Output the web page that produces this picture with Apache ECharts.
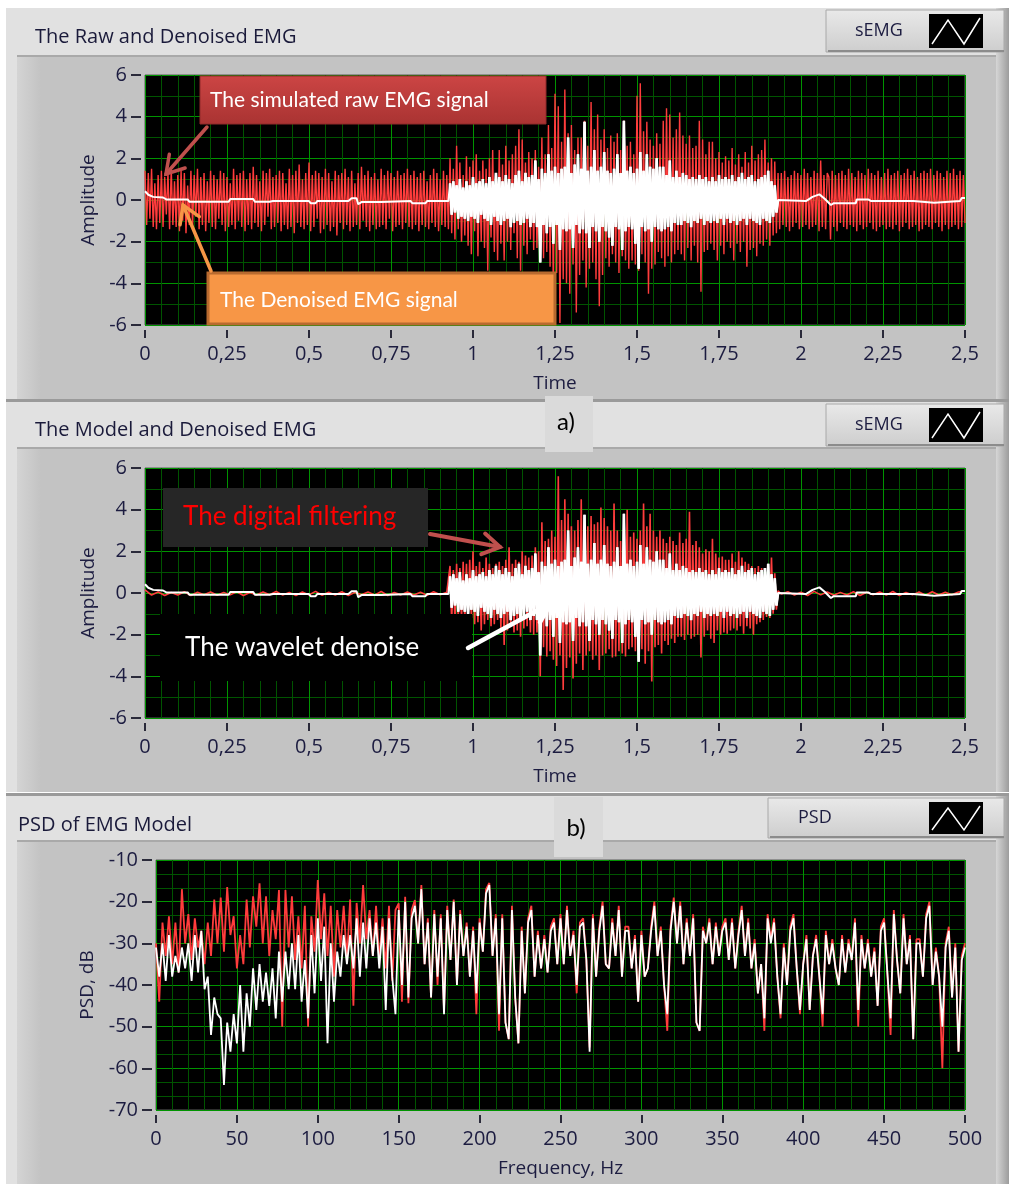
<!DOCTYPE html>
<html>
<head>
<meta charset="utf-8">
<title>EMG raw / denoised / PSD</title>
<script src="https://cdn.jsdelivr.net/npm/echarts/dist/echarts.min.js"></script>
<style>
  html, body { margin: 0; padding: 0; background: #ffffff; }
  #chart { width: 1009px; height: 1184px; }
</style>
</head>
<body>
<div id="chart"></div>
<script>
// ---- data ----

// panel a) raw simulated EMG, sampled every 0.005 s from 0 to 2.5 s
const rawStep = 0.005;
const rawEmg = [
  // quiet part 0 .. 0.925
  1.4,-1.2,1.3,-0.9,1.5,-1.3,0.8,-1.4,1.2,-1.1,1.4,-1.3,1.1,-0.7,1.3,-1.4,1.5,-1.2,0.9,-1.3,
  1.2,-1.5,1.4,-1.0,1.3,-1.6,0.7,-1.2,1.4,-1.3,1.2,-0.8,1.5,-1.4,1.1,-1.2,1.3,-1.5,0.9,-1.1,
  1.4,-1.3,1.2,-1.4,1.0,-0.9,1.4,-1.2,1.3,-1.5,1.1,-1.3,0.8,-1.2,1.5,-1.4,1.2,-1.0,1.3,-1.3,
  1.4,-1.5,1.0,-1.2,1.3,-1.4,1.6,-1.1,1.2,-1.3,0.9,-1.5,1.4,-1.2,1.3,-0.8,1.5,-1.4,1.1,-1.3,
  1.2,-1.1,1.4,-1.5,1.3,-1.2,0.8,-1.4,1.5,-1.3,1.2,-1.6,1.4,-1.1,1.7,-1.3,1.0,-1.4,1.3,-1.2,
  1.8,-1.5,1.2,-1.3,1.4,-0.9,1.3,-1.6,1.1,-1.4,1.5,-1.2,1.3,-1.5,0.9,-1.3,1.4,-1.7,1.2,-1.1,
  1.3,-1.4,1.5,-1.2,1.1,-1.5,1.4,-1.3,0.8,-1.2,1.3,-1.4,1.6,-1.0,1.2,-1.3,1.4,-1.5,1.1,-1.2,
  1.3,-1.4,1.0,-1.3,1.5,-1.2,1.2,-1.4,1.4,-0.9,1.3,-1.5,1.1,-1.3,1.4,-1.2,1.2,-1.4,1.3,-1.1,
  1.5,-1.3,1.2,-1.4,1.4,-1.2,1.1,-1.5,1.3,-1.2,1.4,-1.3,0.9,-1.4,1.2,-1.1,1.5,-1.3,1.3,-1.5,
  1.0,-1.2,1.4,-1.3,1.2,-1.4,
  // burst 0.93 .. 1.93
  2.0,-1.6,1.5,-1.9,2.6,-1.4,1.8,-2.0,1.2,-1.7,
  2.1,-2.2,1.6,-2.6,1.9,-1.5,2.2,-2.7,1.4,-2.0,
  1.9,-2.3,1.5,-3.4,2.0,-1.8,2.4,-2.5,1.3,-2.9,
  2.4,-2.1,1.7,-2.9,2.6,-2.0,1.9,-2.4,2.2,-1.6,
  2.6,-2.8,3.4,-3.4,2.9,-2.2,1.8,-2.6,2.3,-1.9,
  2.0,-2.4,2.4,-2.3,1.6,-2.0,3.0,-2.8,2.2,-2.5,
  3.6,-3.2,2.5,-4.3,5.1,-3.5,4.5,-5.9,2.8,-3.8,
  5.3,-4.0,3.2,-4.5,3.6,-3.1,2.4,-5.4,3.0,-3.6,
  3.0,-2.9,3.8,-4.2,2.6,-3.3,4.7,-3.0,3.4,-3.8,
  4.1,-5.1,2.9,-3.6,3.4,-2.8,2.5,-3.2,3.1,-2.6,
  2.8,-3.0,3.2,-3.5,2.4,-2.7,3.8,-2.9,2.6,-3.3,
  2.8,-2.9,2.2,-3.1,5.0,-3.4,5.6,-2.6,3.3,-3.0,
  3.75,-4.5,2.9,-3.3,2.6,-3.1,3.2,-2.5,2.7,-2.8,
  3.8,-3.2,4.4,-2.7,4.1,-3.0,3.0,-2.6,3.4,-2.4,
  4.2,-2.6,3.1,-2.9,2.7,-2.3,3.1,-2.9,2.5,-2.2,
  2.6,-3.0,3.8,-4.4,2.9,-2.5,2.2,-2.4,2.8,-2.1,
  2.8,-2.4,2.0,-2.9,2.3,-2.2,1.8,-2.6,2.1,-2.0,
  1.9,-2.3,2.5,-2.9,1.7,-2.1,2.2,-2.5,1.6,-2.0,
  2.3,-3.2,1.8,-2.4,2.6,-2.3,1.9,-2.7,2.2,-2.1,
  2.4,-2.2,2.9,-1.9,1.8,-2.2,2.0,-1.7,1.85,-1.6,
  1.3,
  // quiet part 1.935 .. 2.5
  -1.4,1.3,-1.2,1.4,-1.3,1.1,-1.5,1.2,-1.3,1.4,
  -1.1,1.3,-1.4,1.2,-1.3,1.5,-1.2,1.3,-1.4,1.1,
  -1.3,1.4,-1.2,1.3,-1.5,1.9,-1.3,1.2,-1.4,1.3,
  1.1,-1.9,1.4,-1.3,1.2,-1.5,1.3,-1.1,1.4,-1.3,
  1.2,-1.4,1.5,-1.2,1.3,-1.3,1.1,-1.5,1.4,-1.2,
  1.3,-1.4,1.2,-1.3,1.5,-1.1,1.3,-1.4,1.2,-1.5,
  1.4,-1.3,1.1,-1.2,1.3,-1.4,1.5,-1.3,1.2,-1.4,
  1.3,-1.2,1.4,-1.5,1.2,-1.3,1.3,-1.1,1.5,-1.4,
  1.2,-1.3,1.4,-1.2,1.1,-1.5,1.3,-1.4,1.4,-1.2,
  1.3,-1.3,1.5,-1.4,1.2,-1.1,1.4,-1.3,1.3,-1.5,
  1.1,-1.2,1.4,-1.4,1.3,-1.3,1.5,-1.2,1.2,-1.4,
  1.4,-1.3,1.2,-1.1
];

// wavelet-denoised EMG (white): step levels outside the burst, dense inside
const burstStart = 0.93;
const burstStep = 0.005;
const denoisedBefore = [
  [0, 0.42], [0.01, 0.25], [0.025, 0.15], [0.055, 0.12], [0.065, 0.03], [0.13, 0.03],
  [0.135, -0.08], [0.255, -0.08], [0.26, 0.05], [0.33, 0.05], [0.335, -0.08], [0.38, -0.08],
  [0.385, -0.12], [0.39, -0.05], [0.5, -0.05], [0.505, -0.15], [0.52, -0.15], [0.525, -0.05],
  [0.62, -0.05], [0.63, 0.08], [0.645, 0.08], [0.65, -0.2], [0.66, -0.1], [0.72, -0.1],
  [0.725, -0.05], [0.81, -0.05], [0.815, -0.15], [0.855, -0.15], [0.86, -0.05], [0.925, -0.05]
];
const denoisedBurst = [
  0.8,-0.7,0.9,-0.6,0.7,-0.9,1.0,-0.8,0.6,-0.9,
  0.9,-1.0,0.7,-0.8,1.1,-0.9,0.8,-1.1,0.9,-0.7,
  1.0,-0.9,0.8,-1.0,1.1,-1.2,0.9,-0.8,1.3,-1.0,
  1.1,-1.2,0.9,-1.0,1.2,-0.9,1.0,-1.3,0.8,-1.1,
  1.2,-1.0,1.4,-1.2,0.9,-1.1,1.3,-0.9,1.1,-1.3,
  1.2,-1.1,1.9,-1.3,1.0,-3.0,1.5,-1.2,1.3,-1.6,
  2.2,-1.3,1.4,-2.1,1.6,-1.2,1.3,-2.4,1.5,-1.4,
  1.6,-1.5,3.0,-1.4,1.3,-2.3,1.7,-1.2,2.2,-1.6,
  1.5,-1.4,3.75,-1.6,1.4,-2.3,1.6,-1.3,2.4,-1.5,
  1.4,-2.0,1.6,-1.3,2.3,-1.5,1.4,-1.8,1.3,-2.2,
  1.5,-1.3,2.2,-1.4,1.3,-2.4,3.8,-1.5,1.4,-1.3,
  1.6,-1.4,1.3,-2.1,1.5,-3.3,2.3,-1.3,1.4,-1.5,
  2.2,-1.4,1.6,-2.0,1.5,-1.3,2.0,-1.4,1.6,-1.5,
  1.6,-1.4,1.2,-1.3,1.9,-1.5,1.1,-1.1,1.4,-1.2,
  1.1,-1.2,1.3,-1.0,1.2,-1.1,1.0,-1.3,1.1,-1.0,
  1.0,-1.1,1.2,-0.9,1.0,-1.2,1.1,-1.0,0.9,-1.1,
  1.1,-1.0,0.9,-1.1,1.2,-0.9,1.0,-1.2,1.1,-0.9,
  1.0,-1.1,1.2,-1.0,0.9,-1.2,1.1,-1.0,1.3,-0.9,
  1.0,-1.2,1.1,-0.9,1.2,-1.0,0.9,-1.1,1.0,-1.2,
  1.1,-0.9,1.2,-1.0,1.4,-1.1,0.9,-0.8,0.7,-0.6,
  0.0
];
const denoisedAfter = [
  [1.935, -0.05], [2.015, -0.05], [2.035, 0.15], [2.056, 0.27], [2.073, 0.05], [2.091, -0.24],
  [2.1, -0.15], [2.167, -0.15], [2.17, 0.03], [2.205, 0.03], [2.208, 0.1], [2.214, -0.05],
  [2.342, -0.05], [2.348, -0.13], [2.406, -0.13], [2.41, -0.05], [2.485, -0.05], [2.49, 0.1], [2.5, 0.1]
];

// panel b) digital filtering (red)
const quietStep = 0.02;
const filteredBefore = [
  0.15,-0.1,0.05,-0.12,0.02,-0.1,0.06,-0.12,0.04,-0.08,
  0.05,-0.11,0.03,-0.09,0.06,-0.12,0.02,-0.1,0.05,-0.08,
  0.07,-0.1,0.03,-0.12,0.05,-0.09,0.08,-0.11,0.04,-0.1,
  0.06,-0.12,0.03,-0.08,0.05,-0.1,0.07,-0.12,0.02,-0.09,
  0.05,-0.1,0.04,-0.11,0.06,-0.08,0.03
];
const filteredBurst = [
  1.3,-1.4,1.1,-1.45,1.4,-1.2,1.2,-1.3,1.5,-1.4,
  1.4,-1.3,1.6,-1.2,2.0,-1.5,1.3,-1.4,1.5,-1.8,
  1.2,-1.5,1.7,-1.3,1.4,-1.6,1.2,-1.5,1.4,-1.3,
  1.5,-1.7,1.3,-2.5,1.6,-1.8,2.2,-1.6,1.4,-1.9,
  1.6,-1.8,1.5,-2.1,2.0,-1.7,1.8,-1.6,1.7,-1.9,
  1.8,-2.0,2.2,-1.9,2.0,-4.0,3.4,-2.6,2.5,-3.05,
  2.6,-2.8,3.0,-3.2,2.7,-3.5,5.6,-3.0,3.5,-4.65,
  4.5,-3.6,3.8,-3.1,3.2,-4.1,3.0,-3.4,3.5,-2.9,
  4.5,-3.7,3.4,-3.0,3.2,-2.8,3.7,-3.2,3.3,-3.0,
  3.4,-3.7,4.1,-3.0,3.6,-2.9,3.2,-2.7,3.0,-3.1,
  4.3,-3.05,3.0,-2.8,2.5,-2.9,2.8,-3.05,4.0,-2.7,
  2.7,-2.6,2.9,-2.8,2.6,-2.5,3.0,-2.7,4.3,-3.4,
  3.2,-2.8,3.8,-4.25,3.0,-2.6,2.7,-2.5,3.0,-2.9,
  2.6,-2.3,2.4,-2.5,2.7,-2.2,2.5,-2.4,2.3,-2.1,
  2.9,-2.1,2.4,-2.25,2.6,-2.0,3.9,-2.2,2.3,-2.1,
  2.5,-2.0,2.2,-3.1,1.9,-2.1,2.1,-1.8,2.0,-2.2,
  2.6,-2.4,1.9,-1.8,1.7,-2.0,1.75,-1.9,1.6,-1.95,
  1.6,-1.8,1.9,-1.7,1.5,-1.8,2.0,-1.6,1.7,-1.95,
  1.5,-1.6,1.4,-1.7,1.3,-2.0,1.2,-1.5,1.3,-1.4,
  1.2,-1.3,1.1,-1.15,1.3,-1.2,1.7,-1.0,0.95,-0.8,
  0.1
];
const filteredAfterStart = 1.94;
const filteredAfter = [
  -0.05,0.06,-0.1,0.04,-0.12,0.08,-0.09,0.05,-0.11,0.03,
  -0.1,0.06,-0.12,0.04,-0.08,0.05,-0.1,0.07,-0.12,0.03,
  -0.09,0.05,-0.11,0.06,-0.1,0.04,-0.08,0.05,0.1
];

// PSD, every 2 Hz from 0 to 500 Hz
const psdStep = 2;
const psdFiltered = [
  -30,-44,-25,-33,-23.5,-35,-25,-37,-17,-30,
  -23,-34,-24,-31,-27,-35,-25,-33,-19.5,-30,
  -19,-32,-16.5,-28,-23.5,-36,-28,-35,-19.5,-31,
  -18.7,-26,-15.6,-30,-18.7,-33,-22,-29,-17.2,-50,
  -17.2,-31,-18.7,-34,-23.5,-36,-21,-50,-23.5,-32,
  -14.8,-29,-18,-33,-21,-38,-22,-31,-21,-34,
  -19.5,-45,-20.3,-30,-16,-29,-22,-33,-21,-34,
  -24,-36,-21,-39,-22,-20.4,-44,-18.8,-44.4,-22,
  -19.6,-30,-16,-35,-24,-43,-22,-40,-23,-46,
  -21,-34,-19.5,-40,-22,-33,-25,-38,-26,-47,
  -24,-32,-17,-15.5,-33,-23,-51,-23,-49,-53,
  -21,-43,-54,-26,-42,-24,-21,-38,-27,-36,
  -28,-37,-26,-24,-35,-23,-35,-21,-33,-27,
  -42,-25,-24,-34,-55,-23,-38,-26,-20,-35,
  -36,-24,-33,-21,-38,-26,-26,-36,-28,-44,
  -27,-38,-36,-26,-20,-33,-26,-40,-51,-26,
  -19,-30,-20,-35,-24,-33,-23,-49,-51,-26,
  -30,-24,-35,-25,-33,-26,-24,-34,-24,-36,
  -27,-21,-33,-24,-36,-29,-42,-35,-51,-23,
  -29,-24,-38,-48,-30,-40,-26,-23,-36,-47,
  -35,-28,-46,-33,-28,-38,-50,-27,-35,-29,
  -36,-40,-28,-37,-29,-34,-24,-50,-28,-36,
  -29,-38,-31,-45,-26,-24,-37,-52,-22,-34,
  -42,-23,-35,-28,-53,-29,-29,-38,-23,-20,
  -40,-31,-38,-60,-30,-26,-43,-30,-56,-33,-30
];
const psdWavelet = [
  -31,-38,-30,-39,-28,-38,-33,-37,-31,-36,
  -30,-39,-28,-37,-27,-41,-38,-52,-43,-47,
  -48,-64,-49,-56,-47,-54,-40,-56,-42,-50,
  -36,-46,-35,-44,-37,-45,-36,-48,-32,-44,
  -32,-41,-30,-41,-28,-44,-34,-48,-28,-42,
  -24,-39,-26,-54,-30,-44,-32,-38,-28,-35,
  -28,-36,-24,-38,-25,-36,-24,-33,-25,-36,
  -26,-46,-24,-38,-47,-22,-40,-20,-43,-24,
  -21,-30,-17,-35,-25,-43,-23,-38,-24,-47,
  -22,-34,-20,-40,-23,-33,-26,-38,-27,-42,
  -25,-32,-18,-16,-33,-24,-47,-24,-49,-53,
  -22,-43,-54,-27,-42,-25,-22,-38,-28,-36,
  -29,-37,-27,-25,-35,-24,-35,-22,-33,-28,
  -40,-26,-25,-34,-56,-24,-38,-27,-21,-35,
  -36,-25,-33,-22,-38,-27,-27,-36,-29,-44,
  -28,-38,-36,-27,-21,-33,-27,-40,-47,-27,
  -20,-30,-21,-35,-25,-33,-24,-49,-51,-27,
  -30,-25,-35,-26,-33,-27,-25,-34,-25,-36,
  -28,-22,-33,-25,-36,-30,-42,-35,-48,-24,
  -30,-25,-38,-47,-31,-40,-27,-24,-36,-46,
  -35,-29,-46,-33,-29,-38,-47,-28,-35,-30,
  -36,-40,-29,-37,-30,-34,-25,-46,-29,-36,
  -30,-38,-32,-45,-27,-25,-37,-48,-23,-34,
  -42,-24,-35,-29,-53,-30,-30,-38,-24,-21,
  -40,-32,-38,-50,-31,-27,-43,-31,-56,-34,-31
];

// ---- helpers ----
const FONT_UI = '"Open Sans", "DejaVu Sans", sans-serif';
const FONT_NOTE = 'Lato, "Open Sans", sans-serif';
const INK = '#1c1c40';
const RED = '#ff3c3c';
const GRID_MAJOR = '#009400';
const GRID_MINOR = '#005400';

function sampled(values, t0, dt) {
  return values.map((v, i) => [+(t0 + i * dt).toFixed(4), v]);
}

const denoisedBurstPts = sampled(denoisedBurst, burstStart, burstStep);
const denoisedSeries = denoisedBefore.concat(denoisedBurstPts, denoisedAfter);

const filteredSeries = sampled(filteredBefore, 0, quietStep)
  .concat(sampled(filteredBurst, burstStart, burstStep))
  .concat(sampled(filteredAfter, filteredAfterStart, quietStep));

function xAxisFor(gridIndex, max, interval, name, fmt) {
  return {
    type: 'value', gridIndex, min: 0, max, interval, offset: 5,
    name, nameLocation: 'middle', nameGap: 44,
    nameTextStyle: { color: INK, fontSize: 19, fontFamily: FONT_UI },
    axisLine: { show: false, onZero: false },
    axisTick: { show: true, length: 8, lineStyle: { color: '#2a2a3a', width: 2 } },
    axisLabel: { margin: 14, color: INK, fontSize: 20, fontFamily: FONT_UI, formatter: fmt },
    splitLine: { show: true, lineStyle: { color: GRID_MAJOR, width: 1 } },
    minorTick: { show: false, splitNumber: 5 },
    minorSplitLine: { show: true, lineStyle: { color: GRID_MINOR, width: 1 } }
  };
}

function yAxisFor(gridIndex, min, max, interval, minorSplit, name, gap) {
  return {
    type: 'value', gridIndex, min, max, interval, offset: 4,
    name, nameLocation: 'middle', nameGap: gap, nameRotate: 90,
    nameTextStyle: { color: INK, fontSize: 19, fontFamily: FONT_UI },
    axisLine: { show: false, onZero: false },
    axisTick: { show: true, length: 10, lineStyle: { color: '#2a2a3a', width: 2 } },
    axisLabel: { margin: 14, color: INK, fontSize: 20, fontFamily: FONT_UI },
    splitLine: { show: true, lineStyle: { color: GRID_MAJOR, width: 1 } },
    minorTick: { show: false, splitNumber: minorSplit },
    minorSplitLine: { show: true, lineStyle: { color: GRID_MINOR, width: 1 } }
  };
}

function lineSeries(data, color, xi, width) {
  return {
    type: 'line', data, xAxisIndex: xi, yAxisIndex: xi,
    showSymbol: false, symbol: 'none', sampling: null,
    lineStyle: { color, width: width || 1 }, itemStyle: { color },
    silent: true, animation: false
  };
}

// ---- decoration: LabVIEW-like panels, legends, callouts ----
function box(x, y, w, h, fill, z, stroke, lw) {
  return { type: 'rect', z: z, shape: { x, y, width: w, height: h },
    style: { fill, stroke: stroke || null, lineWidth: lw || 0 }, silent: true };
}
function txt(text, x, y, font, color, align, z) {
  return { type: 'text', z: z || 50, silent: true,
    style: { text, x, y, font, fill: color, textAlign: align || 'left', align: align || 'left',
      textVerticalAlign: 'middle', verticalAlign: 'middle' } };
}
function arrow(x1, y1, x2, y2, color, width, head) {
  const a = Math.atan2(y2 - y1, x2 - x1);
  const p1 = [x2 - head * Math.cos(a - 0.55), y2 - head * Math.sin(a - 0.55)];
  const p2 = [x2 - head * Math.cos(a + 0.55), y2 - head * Math.sin(a + 0.55)];
  return [
    { type: 'line', z: 100, silent: true, shape: { x1, y1, x2, y2 },
      style: { stroke: color, lineWidth: width, lineCap: 'round' } },
    { type: 'polyline', z: 100, silent: true, shape: { points: [p1, [x2, y2], p2] },
      style: { stroke: color, lineWidth: width, fill: null, lineJoin: 'miter', lineCap: 'round' } }
  ];
}
function vgrad(c1, c2) {
  return new echarts.graphic.LinearGradient(0, 0, 0, 1, [{ offset: 0, color: c1 }, { offset: 1, color: c2 }]);
}
function hgrad(c1, c2) {
  return new echarts.graphic.LinearGradient(0, 0, 1, 0, [{ offset: 0, color: c1 }, { offset: 1, color: c2 }]);
}
function panel(top, innerTop, bottom) {
  return [
    box(6, top, 1003, bottom - top, '#e1e1e1', -20),
    box(17, innerTop, 980, bottom - innerTop, '#c3c3c3', -19),
    box(17, innerTop, 24, bottom - innerTop, hgrad('#d4d4d4', '#c3c3c3'), -18),
    box(17, innerTop, 980, 2, '#a9a9a9', -18),
    box(996, top, 13, bottom - top, hgrad('#d6d6d6', '#9c9c9c'), -18)
  ];
}
function legendButton(x, y, w, h, label, textX) {
  return [
    box(x, y, w, h, vgrad('#e9e9e9', '#cdcdcd'), 10, '#a8a8a8', 1),
    box(x + 2, y + h - 2, w - 2, 2, '#8c8c8c', 11),
    txt(label, textX, y + h / 2, '18px ' + FONT_UI, INK, 'left', 12),
    box(929, y + 4, 54, h - 8, '#000000', 12),
    { type: 'polyline', z: 13, silent: true,
      shape: { points: [[932, y + h - 8], [948, y + 10], [964, y + h - 8], [980, y + 8]] },
      style: { stroke: '#ffffff', lineWidth: 1.5, fill: null } }
  ];
}

const decor = [].concat(
  panel(8, 55, 400),
  panel(402, 447, 792),
  panel(796, 840, 1184),
  [box(6, 399, 1003, 3, '#9a9a9a', -17), box(6, 793, 1003, 3, '#9a9a9a', -17)],
  [
    txt('The Raw and Denoised EMG', 35, 37, '20px ' + FONT_UI, '#1a1a3a'),
    txt('The Model and Denoised EMG', 35, 430, '20px ' + FONT_UI, '#1a1a3a'),
    txt('PSD of EMG Model', 18, 825, '20px ' + FONT_UI, '#1a1a3a')
  ],
  legendButton(826, 10, 178, 42, 'sEMG', 855),
  legendButton(826, 404, 178, 42, 'sEMG', 855),
  legendButton(768, 798, 236, 40, 'PSD', 798),
  [
    box(545, 396, 48, 56, '#dadada', 20),
    txt('a)', 566, 422, '24px ' + FONT_NOTE, '#000000', 'center', 21),
    box(554, 797, 49, 60, '#dadada', 20),
    txt('b)', 576, 828, '24px ' + FONT_NOTE, '#000000', 'center', 21)
  ],
  // callouts, panel a)
  [
    box(200, 76, 346, 48, vgrad('#cc4544', '#a93332'), 90, '#8f2b2b', 1),
    txt('The simulated raw EMG signal', 210, 100, '21px ' + FONT_NOTE, '#ffffff', 'left', 91),
    box(208, 273, 347, 51, '#f79646', 90, '#b86a2f', 3),
    txt('The Denoised EMG signal', 220, 300, '21px ' + FONT_NOTE, '#ffffff', 'left', 91)
  ],
  arrow(207, 127, 166, 174, '#c0504d', 3.5, 20),
  arrow(211, 271, 183, 205, '#f79646', 3.5, 20),
  // callouts, panel b)
  [
    box(163, 488, 265, 59, '#262626', 90),
    txt('The digital filtering', 183, 517, '26px ' + FONT_NOTE, '#ff0000', 'left', 91),
    box(160, 614, 312, 67, '#000000', 90),
    txt('The wavelet denoise', 185, 648, '26px ' + FONT_NOTE, '#ffffff', 'left', 91)
  ],
  arrow(430, 534, 500, 547, '#c0504d', 4, 20),
  arrow(468, 648, 551, 603, '#ffffff', 4.5, 22)
);

// ---- chart ----
const chart = echarts.init(document.getElementById('chart'), null, { renderer: 'canvas' });
const commaFmt = v => String(v).replace('.', ',');

chart.setOption({
  animation: false,
  backgroundColor: '#ffffff',
  grid: [
    { left: 145, top: 75, width: 820, height: 250, show: true, backgroundColor: '#000000', borderColor: '#5a5a5a', borderWidth: 1 },
    { left: 145, top: 468, width: 820, height: 250, show: true, backgroundColor: '#000000', borderColor: '#5a5a5a', borderWidth: 1 },
    { left: 156, top: 860, width: 809, height: 250, show: true, backgroundColor: '#000000', borderColor: '#5a5a5a', borderWidth: 1 }
  ],
  xAxis: [
    xAxisFor(0, 2.5, 0.25, 'Time', commaFmt),
    xAxisFor(1, 2.5, 0.25, 'Time', commaFmt),
    xAxisFor(2, 500, 50, 'Frequency, Hz', v => String(v))
  ],
  yAxis: [
    yAxisFor(0, -6, 6, 2, 2, 'Amplitude', 42),
    yAxisFor(1, -6, 6, 2, 2, 'Amplitude', 42),
    yAxisFor(2, -70, -10, 10, 3, 'PSD, dB', 55)
  ],
  series: [
    lineSeries(sampled(rawEmg, 0, rawStep), RED, 0, 1.4),
    lineSeries(denoisedSeries, '#ffffff', 0, 2),
    lineSeries(denoisedBurstPts, '#ffffff', 0, 2.6),
    lineSeries(filteredSeries, RED, 1, 1.6),
    lineSeries(denoisedSeries, '#ffffff', 1, 2),
    lineSeries(denoisedBurstPts, '#ffffff', 1, 2.6),
    lineSeries(sampled(psdFiltered, 0, psdStep), RED, 2, 1.8),
    lineSeries(sampled(psdWavelet, 0, psdStep), '#ffffff', 2, 1.8)
  ],
  graphic: { elements: decor }
});
</script>
</body>
</html>
